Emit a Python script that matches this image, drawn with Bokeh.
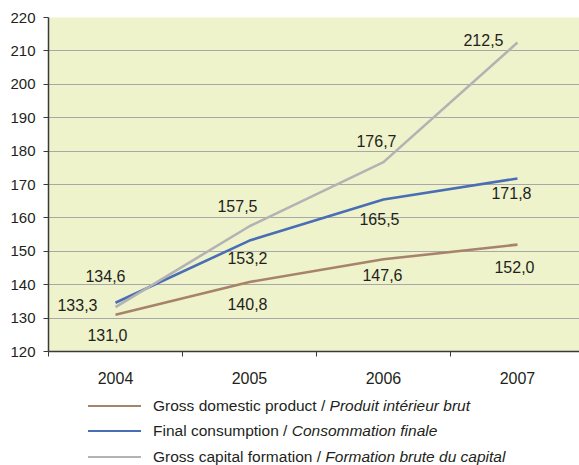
from bokeh.plotting import figure
from bokeh.models import Range1d, FixedTicker, ColumnDataSource, Div
from bokeh.layouts import column
from bokeh.core.properties import value
from bokeh.embed import file_html
from bokeh.resources import INLINE

# ---- data ----
years = ["2004", "2005", "2006", "2007"]
gdp = [131.0, 140.8, 147.6, 152.0]
final_consumption = [134.6, 153.2, 165.5, 171.8]
capital_formation = [133.3, 157.5, 176.7, 212.5]
y_ticks = [120, 130, 140, 150, 160, 170, 180, 190, 200, 210, 220]

names_en = ["Gross domestic product", "Final consumption", "Gross capital formation"]
names_fr = ["Produit intérieur brut", "Consommation finale", "Formation brute du capital"]

# ---- style ----
colors = ["#A7836B", "#4A6EB5", "#B3B3B3"]
label_dx = [[-8, -2, -1, -3], [-10, -2, -4, -6], [-38, -12, -7, -34]]
label_dy = [[20, 22, 16, 22], [-27, 17, 19, 15], [-2, -20, -21, -3]]
FONT = "Liberation Sans"
TXT = "#231F20"

p = figure(frame_width=531, frame_height=334,
           x_range=Range1d(-0.5, 3.463), y_range=Range1d(120, 220),
           output_backend="svg", toolbar_location=None,
           min_border_left=48, min_border_right=0, min_border_top=17, min_border_bottom=42,
           background_fill_color="#EEF3CB", border_fill_color="white")
p.outline_line_color = None
p.xgrid.visible = False
p.ygrid.grid_line_color = "#A8A8A8"
p.ygrid.grid_line_width = 1.2

p.yaxis.ticker = FixedTicker(ticks=y_ticks)
p.yaxis.major_tick_out = 5
p.yaxis.major_tick_in = 0
p.yaxis.minor_tick_line_color = None
p.yaxis.major_label_standoff = 8

xs = list(range(len(years)))
p.xaxis.ticker = FixedTicker(ticks=xs, minor_ticks=[i - 0.5 for i in xs])
p.xaxis.major_label_overrides = {i: y for i, y in enumerate(years)}
p.xaxis.major_tick_out = 0
p.xaxis.major_tick_in = 0
p.xaxis.minor_tick_out = 5
p.xaxis.minor_tick_in = 0
p.xaxis.major_label_standoff = 15

for ax in (p.xaxis[0], p.yaxis[0]):
    ax.axis_line_color = "#3A3A3A"
    ax.axis_line_width = 1.5
    ax.major_tick_line_color = "#3A3A3A"
    ax.major_label_text_font = FONT
    ax.major_label_text_color = TXT
p.xaxis.minor_tick_line_color = "#3A3A3A"
p.yaxis.major_label_text_font_size = "15px"
p.xaxis.major_label_text_font_size = "16px"

for vals, color, dx, dy in zip([gdp, final_consumption, capital_formation], colors, label_dx, label_dy):
    src = ColumnDataSource(dict(x=xs, y=vals,
                                label=[f"{v:.1f}".replace(".", ",") for v in vals],
                                dx=dx, dy=dy))
    p.line("x", "y", source=src, line_color=color, line_width=2.6)
    p.text("x", "y", text="label", source=src, x_offset="dx", y_offset="dy",
           text_align="center", text_baseline="middle",
           text_font=value(FONT), text_font_size="16px", text_color=TXT)

rows = []
for en, fr, color in zip(names_en, names_fr, colors):
    rows.append(
        f'<div style="display:flex;align-items:center;height:25.5px;">'
        f'<span style="display:inline-block;width:53px;height:0;border-top:2.5px solid {color};margin-right:12px;"></span>'
        f'<span>{en} / <i>{fr}</i></span></div>')
legend_div = Div(text="".join(rows), width=491, height=72, margin=(0, 0, 0, 88),
                 styles={"font-family": "'Liberation Sans', Arial, sans-serif",
                         "font-size": "15.5px", "color": TXT, "white-space": "nowrap",
                         "overflow": "hidden"})

layout = column(p, legend_div, spacing=0)
open("out.html", "w").write(file_html(layout, INLINE))
